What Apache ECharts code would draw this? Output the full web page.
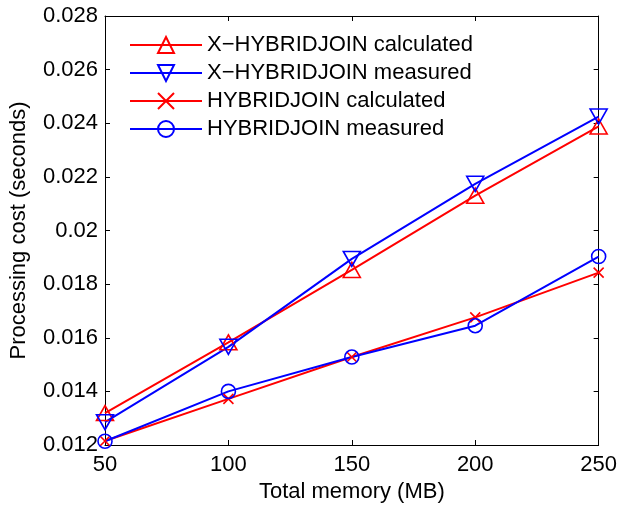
<!DOCTYPE html>
<html>
<head>
<meta charset="utf-8">
<script src="https://cdn.jsdelivr.net/npm/echarts@6/dist/echarts.min.js"></script>
<style>
  html, body { margin: 0; padding: 0; background: #fff; }
  #main { width: 620px; height: 508px; }
</style>
</head>
<body>
<div id="main"></div>
<script>
// memory sizes (MB)
var memory = [50, 100, 150, 200, 250];
// processing cost (seconds)
var xhjCalculated = [0.01319, 0.01583, 0.01853, 0.02130, 0.02388];
var xhjMeasured   = [0.01285, 0.01566, 0.01894, 0.02174, 0.02425];
var hjCalculated  = [0.01215, 0.01372, 0.01528, 0.01676, 0.01843];
var hjMeasured    = [0.01214, 0.01400, 0.01528, 0.01645, 0.01903];
var yTickLabels = ['0.012', '0.014', '0.016', '0.018', '0.02', '0.022', '0.024', '0.026', '0.028'];

function pairs(xs, ys) {
    return xs.map(function (x, i) { return [x, ys[i]]; });
}

var font = 'Liberation Sans, Arial, Helvetica, sans-serif';
var crossPath = 'path://M0,0 L10,10 M10,0 L0,10';

var myChart = echarts.init(document.getElementById('main'), null, { renderer: 'canvas' });

function tickAxis(show) {
    return {
        axisLine: { show: true, lineStyle: { color: '#000', width: 1 } },
        axisTick: { show: true, inside: true, length: 5, lineStyle: { color: '#000' } },
        splitLine: { show: false },
        axisLabel: { show: show }
    };
}

function mkSeries(name, data, color, symbol, size, rotate) {
    return {
        name: name,
        type: 'line',
        data: data,
        symbol: symbol,
        symbolSize: size,
        symbolRotate: rotate || 0,
        showAllSymbol: true,
        lineStyle: { color: color, width: 2 },
        itemStyle: { color: 'none', borderColor: color, borderWidth: 1.6 },
        emphasis: { disabled: true },
        animation: false,
        z: 3
    };
}

option = {
    backgroundColor: '#fff',
    textStyle: { fontFamily: font },
    grid: { left: 104, right: 19, top: 16, bottom: 63 },
    legend: {
        left: 129,
        top: 34,
        orient: 'vertical',
        padding: 0,
        itemWidth: 72,
        itemHeight: 20,
        itemGap: 6,
        textStyle: { fontSize: 22, color: '#000', fontFamily: font },
        data: ['X\u2212HYBRIDJOIN calculated', 'X\u2212HYBRIDJOIN measured', 'HYBRIDJOIN calculated', 'HYBRIDJOIN measured']
    },
    xAxis: [
        Object.assign(tickAxis(true), {
            type: 'value', min: 50, max: 250, interval: 50,
            name: 'Total memory (MB)', nameLocation: 'middle', nameGap: 36,
            nameTextStyle: { fontSize: 22, color: '#000' },
            axisLabel: { show: true, fontSize: 22, color: '#000', margin: 9 }
        }),
        Object.assign(tickAxis(false), {
            type: 'value', min: 50, max: 250, interval: 50, position: 'top'
        })
    ],
    yAxis: [
        Object.assign(tickAxis(true), {
            type: 'value', min: 0.012, max: 0.028, interval: 0.002,
            name: 'Processing cost (seconds)', nameLocation: 'middle', nameGap: 75,
            nameTextStyle: { fontSize: 22, color: '#000' },
            axisLabel: {
                show: true, fontSize: 22, color: '#000', margin: 7,
                formatter: function (v) {
                    var i = Math.round((v - 0.012) / 0.002);
                    return yTickLabels[i];
                }
            }
        }),
        Object.assign(tickAxis(false), {
            type: 'value', min: 0.012, max: 0.028, interval: 0.002, position: 'right'
        })
    ],
    series: [
        mkSeries('X\u2212HYBRIDJOIN calculated', pairs(memory, xhjCalculated), '#ff0000', 'triangle', [17, 15]),
        mkSeries('X\u2212HYBRIDJOIN measured', pairs(memory, xhjMeasured), '#0000ff', 'triangle', [17, 15], 180),
        mkSeries('HYBRIDJOIN calculated', pairs(memory, hjCalculated), '#ff0000', crossPath, 10),
        mkSeries('HYBRIDJOIN measured', pairs(memory, hjMeasured), '#0000ff', 'circle', 14)
    ]
};

myChart.setOption(option);
</script>
</body>
</html>
